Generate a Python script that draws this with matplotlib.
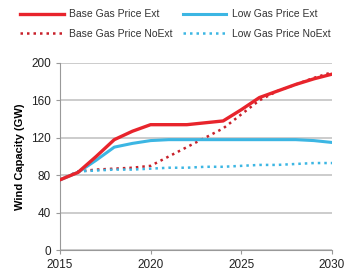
import matplotlib
matplotlib.use("Agg")
import matplotlib.pyplot as plt

plt.rcParams["font.family"] = ["Liberation Sans", "DejaVu Sans"]

years = list(range(2015, 2031))
base_ext = [75, 83, 100, 118, 127, 134, 134, 134, 136, 138, 150, 163, 170, 177, 183, 188]
low_ext = [75, 83, 96, 110, 114, 117, 118, 118, 118, 118, 118, 118, 118, 118, 117, 115]
base_noext = [75, 84, 86, 87, 88, 90, 100, 110, 120, 130, 145, 160, 170, 177, 184, 190]
low_noext = [75, 84, 85, 86, 86, 87, 88, 88, 89, 89, 90, 91, 91, 92, 93, 93]

red = "#e8242c"
blue = "#3cb6e3"

fig = plt.figure(figsize=(3.48, 2.76), dpi=100)
ax = fig.add_axes([0.172, 0.094, 0.782, 0.678])

ax.plot(years, base_noext, color="#c8202a", lw=1.8, linestyle=(0, (1, 1.6)), label="Base Gas Price NoExt", zorder=3)
ax.plot(years, low_noext, color=blue, lw=1.8, linestyle=(0, (1, 1.6)), label="Low Gas Price NoExt", zorder=3)
ax.plot(years, low_ext, color=blue, lw=2.2, label="Low Gas Price Ext", zorder=4)
ax.plot(years, base_ext, color=red, lw=2.4, label="Base Gas Price Ext", zorder=5)

ax.set_xlim(2015, 2030)
ax.set_ylim(0, 200)
ax.set_xticks([2015, 2020, 2025, 2030])
ax.set_yticks(range(0, 201, 40))
ax.yaxis.grid(True, color="#c8c8c8", lw=1.3)
ax.set_axisbelow(True)
for s in ["top", "right"]:
    ax.spines[s].set_visible(False)
ax.spines["left"].set_color("#999999")
ax.spines["bottom"].set_color("#999999")
ax.tick_params(labelsize=8.5, colors="#222222", length=3, color="#999999")
ax.set_ylabel("Wind Capacity (GW)", fontsize=8, fontweight="bold", labelpad=4)

h, l = ax.get_legend_handles_labels()
order = [3, 0, 2, 1]
fig.legend([h[i] for i in order], [l[i] for i in order], loc="upper left",
           bbox_to_anchor=(0.03, 1.0), ncol=2, frameon=False, fontsize=7.5,
           labelcolor="#333333",
           handlelength=4.2, columnspacing=1.0, handletextpad=0.5, labelspacing=0.9)

fig.savefig("out.png", dpi=100)
